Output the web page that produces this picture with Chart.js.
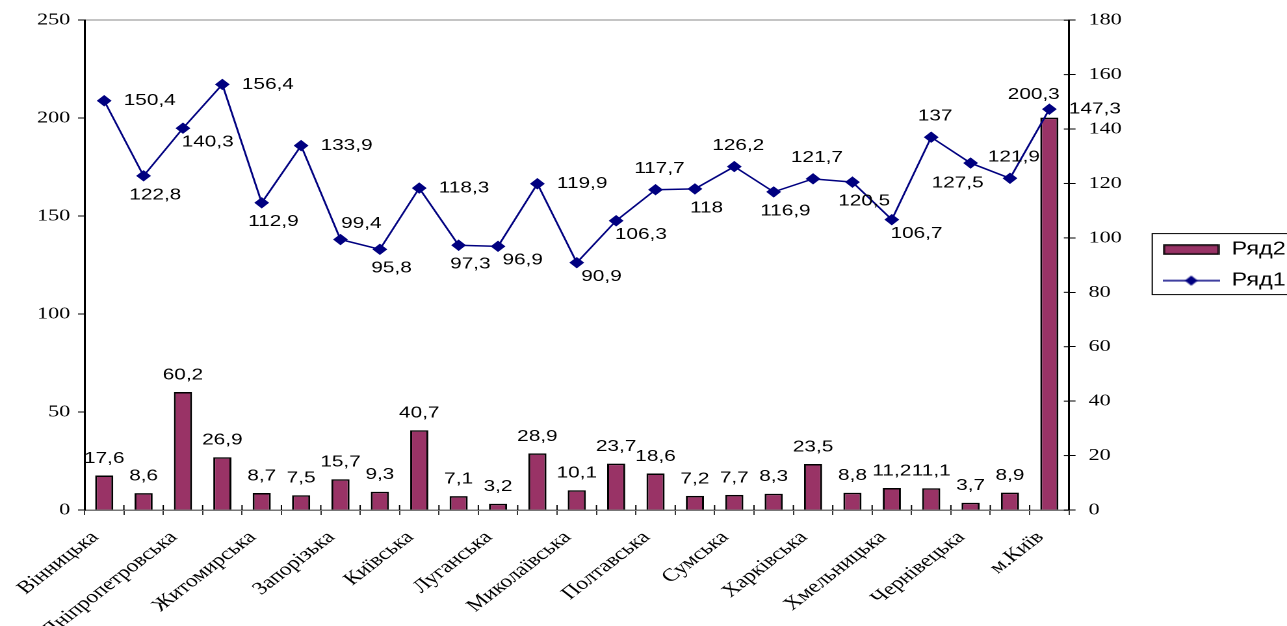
<!DOCTYPE html>
<html>
<head>
<meta charset="utf-8">
<script src="https://cdn.jsdelivr.net/npm/chart.js@4.4.1/dist/chart.umd.min.js"></script>
<style>
  html, body { margin: 0; padding: 0; background: #fff; overflow: hidden; }
  #wrap { width: 990px; height: 626px; transform: scaleX(1.3); transform-origin: 0 0; }
</style>
</head>
<body>
<div id="wrap"><canvas id="myChart"></canvas></div>
<script>
const regions = [
  'Вінницька', 'Волинська', 'Дніпропетровська', 'Донецька', 'Житомирська',
  'Закарпатська', 'Запорізька', 'Івано-Франківська', 'Київська', 'Кіровоградська',
  'Луганська', 'Львівська', 'Миколаївська', 'Одеська', 'Полтавська',
  'Рівненська', 'Сумська', 'Тернопільська', 'Харківська', 'Херсонська',
  'Хмельницька', 'Черкаська', 'Чернівецька', 'Чернігівська', 'м.Київ'
]

// Ряд1 - line, right axis
const row1 = [
  150.4, 122.8, 140.3, 156.4, 112.9, 133.9, 99.4, 95.8, 118.3, 97.3,
  96.9, 119.9, 90.9, 106.3, 117.7, 118, 126.2, 116.9, 121.7, 120.5,
  106.7, 137, 127.5, 121.9, 147.3
]

// Ряд2 - bars, left axis
const row2 = [
  17.6, 8.6, 60.2, 26.9, 8.7, 7.5, 15.7, 9.3, 40.7, 7.1,
  3.2, 28.9, 10.1, 23.7, 18.6, 7.2, 7.7, 8.3, 23.5, 8.8,
  11.2, 11.1, 3.7, 8.9, 200.3
]

const leftMax = 250
const leftStep = 50
const rightMax = 180
const rightStep = 20

// where each line label sits relative to its point
const lineSpots = [
  'r', 'b', 'br', 'r', 'b', 'r', 'ar', 'b', 'r', 'b',
  'br', 'r', 'br', 'br', 'a', 'b', 'a', 'b', 'a', 'b',
  'br', 'a', 'bl', 'a', 'r'
]

const spotOffsets = {
  r:  { dx: 15, dy: 0, align: 'left' },
  b:  { dx: 9, dy: 19, align: 'center' },
  br: { dx: 19, dy: 14, align: 'center' },
  a:  { dx: 3, dy: -21, align: 'center' },
  ar: { dx: 16, dy: -16, align: 'center' },
  bl: { dx: -10, dy: 20, align: 'center' }
}

const barLabelShift = { 24: { dx: -12, dy: -6 } }

const labelFont = '16px "Liberation Sans", Arial, sans-serif'
const serif = '"Liberation Serif", "Times New Roman", serif'

function fmt(v) {
  return String(v).replace('.', ',')
}

// legend swatches
function makeBarSwatch() {
  let c = document.createElement('canvas')
  c.width = 44
  c.height = 11
  let g = c.getContext('2d')
  g.fillStyle = '#993366'
  g.fillRect(1, 1, 42, 9)
  g.strokeStyle = '#000'
  g.lineWidth = 1.5
  g.strokeRect(1, 1, 42, 9)
  return c
}

function makeLineSwatch() {
  let c = document.createElement('canvas')
  c.width = 44
  c.height = 12
  let g = c.getContext('2d')
  g.strokeStyle = '#000080'
  g.lineWidth = 1.5
  g.beginPath()
  g.moveTo(0, 6)
  g.lineTo(44, 6)
  g.stroke()
  g.fillStyle = '#000080'
  g.beginPath()
  g.moveTo(22, 1)
  g.lineTo(27, 6)
  g.lineTo(22, 11)
  g.lineTo(17, 6)
  g.closePath()
  g.fill()
  return c
}

const barSwatch = makeBarSwatch()
const lineSwatch = makeLineSwatch()

const valueLabels = {
  id: 'valueLabels',
  afterDatasetsDraw(chart) {
    const ctx = chart.ctx
    ctx.save()
    ctx.font = labelFont
    ctx.fillStyle = '#000'
    ctx.textBaseline = 'middle'

    // bar labels
    chart.getDatasetMeta(1).data.forEach((bar, i) => {
      let s = barLabelShift[i] || { dx: 0, dy: 0 }
      ctx.textAlign = 'center'
      ctx.fillText(fmt(row2[i]), bar.x + s.dx, bar.y - 17 + s.dy)
    })

    // line labels
    chart.getDatasetMeta(0).data.forEach((pt, i) => {
      let o = spotOffsets[lineSpots[i]]
      ctx.textAlign = o.align
      ctx.fillText(fmt(row1[i]), pt.x + o.dx, pt.y + o.dy)
    })
    ctx.restore()
  }
}

const innerTicks = {
  id: 'innerTicks',
  afterDraw(chart) {
    const ctx = chart.ctx
    const area = chart.chartArea
    const x = chart.scales.x
    const y1 = chart.scales.y1
    ctx.save()
    ctx.strokeStyle = '#000'
    ctx.lineWidth = 1

    let half = (x.getPixelForValue(1) - x.getPixelForValue(0)) / 2
    for (let i = 0; i <= regions.length; i++) {
      let px = x.getPixelForValue(i) - half
      ctx.beginPath()
      ctx.moveTo(px, area.bottom)
      ctx.lineTo(px, area.bottom - 5)
      ctx.stroke()
    }

    y1.ticks.forEach(t => {
      let py = y1.getPixelForValue(t.value)
      ctx.beginPath()
      ctx.moveTo(area.right - 4, py)
      ctx.lineTo(area.right, py)
      ctx.stroke()
    })

    // legend frame
    const boxes = chart.legend.legendHitBoxes
    if (boxes && boxes.length) {
      let top = boxes[0].top - 7
      let bottom = boxes[boxes.length - 1].top + boxes[boxes.length - 1].height + 5
      let left = boxes[0].left - 8
      ctx.strokeStyle = '#000'
      ctx.strokeRect(left, top, chart.width + 5 - left, bottom - top)
    }
    ctx.restore()
  }
}

let data = {
  labels: regions,
  datasets: [
    {
      type: 'line',
      label: 'Ряд1',
      data: row1,
      yAxisID: 'y1',
      borderColor: '#000080',
      backgroundColor: '#000080',
      borderWidth: 1.5,
      tension: 0,
      pointStyle: 'rectRot',
      pointRadius: 5,
      pointBorderWidth: 1,
      pointBackgroundColor: '#000080',
      pointBorderColor: '#000080'
    },
    {
      type: 'bar',
      label: 'Ряд2',
      data: row2,
      yAxisID: 'y',
      backgroundColor: '#993366',
      borderColor: '#000',
      borderWidth: 1.5,
      barPercentage: 0.46,
      categoryPercentage: 1
    }
  ]
}

let config = {
  type: 'bar',
  data: data,
  plugins: [valueLabels, innerTicks],
  options: {
    responsive: true,
    maintainAspectRatio: false,
    animation: false,
    devicePixelRatio: 2,
    layout: { padding: { top: 15, left: 0, right: -9, bottom: 0 } },
    scales: {
      x: {
        grid: { drawOnChartArea: false, tickLength: 5, color: '#333', offset: true },
        border: { color: '#777', width: 1.5 },
        ticks: {
          autoSkip: false,
          maxRotation: 45,
          minRotation: 45,
          padding: 12,
          labelOffset: -7,
          color: '#000',
          font: { family: serif, size: 18 },
          callback: (v, i) => (i % 2 === 0 ? regions[i] : '')
        },
        afterFit: s => { s.height = 116 }
      },
      y: {
        position: 'left',
        min: 0,
        max: leftMax,
        grid: {
          color: ctx => (ctx.tick && ctx.tick.value === leftMax ? '#888' : 'rgba(0,0,0,0)'),
          tickColor: '#000',
          tickLength: 5
        },
        border: { color: '#000', width: 1.5 },
        ticks: {
          stepSize: leftStep,
          padding: 6,
          color: '#000',
          font: { family: serif, size: 17 }
        },
        afterFit: s => { s.width = 65 }
      },
      y1: {
        position: 'right',
        min: 0,
        max: rightMax,
        grid: { drawOnChartArea: false, tickColor: '#000', tickLength: 5 },
        border: { color: '#000', width: 1.5 },
        ticks: {
          stepSize: rightStep,
          padding: 10,
          color: '#000',
          font: { family: serif, size: 17 }
        },
        afterFit: s => { s.width = 59 }
      }
    },
    plugins: {
      tooltip: { enabled: false },
      legend: {
        position: 'right',
        fullSize: false,
        reverse: true,
        labels: {
          usePointStyle: true,
          pointStyleWidth: 44,
          padding: 13,
          color: '#000',
          font: { family: '"Liberation Sans", Arial, sans-serif', size: 18 },
          generateLabels(chart) {
            let items = Chart.defaults.plugins.legend.labels.generateLabels(chart)
            items.forEach(it => {
              it.pointStyle = it.datasetIndex === 0 ? lineSwatch : barSwatch
            })
            return items
          }
        }
      }
    }
  }
}

let myChart = new Chart(document.getElementById('myChart'), config)
</script>
</body>
</html>
